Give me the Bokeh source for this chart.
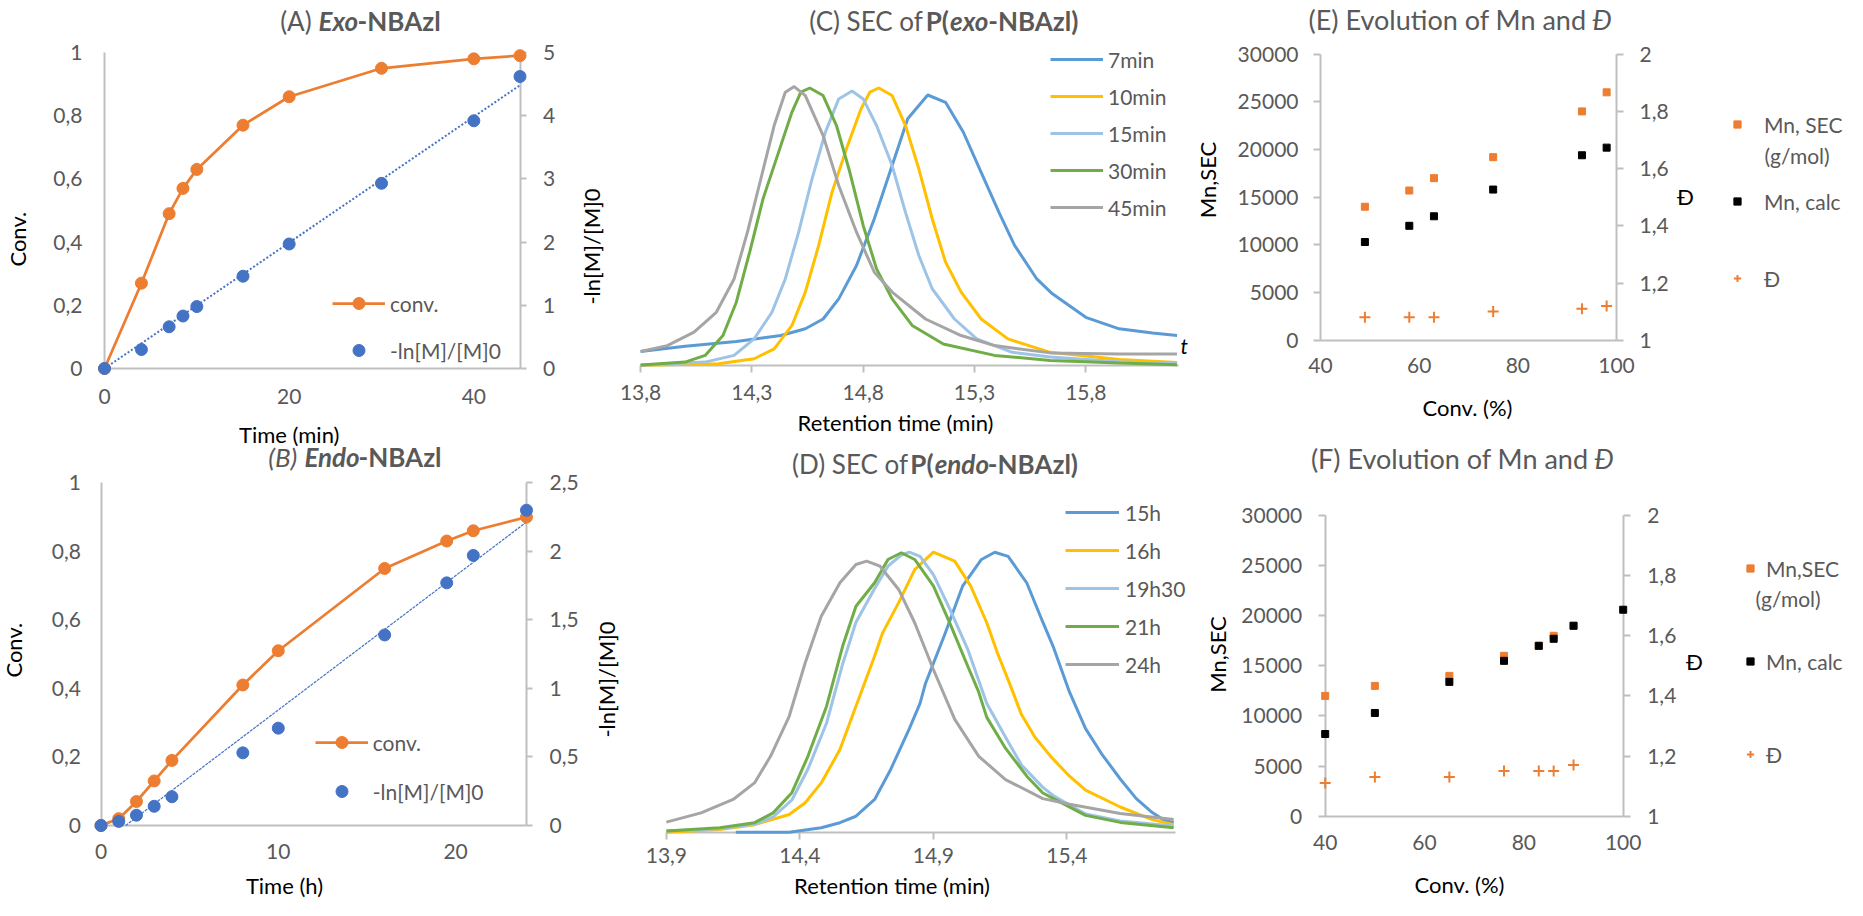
import math
import numpy as np
from bokeh.plotting import figure
from bokeh.core.properties import value
from bokeh.models import (Range1d, LinearAxis, FixedTicker, CustomJSTickFormatter,
                          Legend, LegendItem)
from bokeh.embed import file_html
from bokeh.resources import INLINE

# ---------------- (A) Exo-NBAzl kinetics (time in min) ----------------
a_time = [0, 4, 7, 8.5, 10, 15, 20, 30, 40, 45]
a_conv = [0, 0.27, 0.49, 0.57, 0.63, 0.77, 0.86, 0.95, 0.98, 0.99]
a_ln = [0, 0.30, 0.66, 0.83, 0.98, 1.46, 1.97, 2.93, 3.92, 4.62]
a_xticks = [0, 20, 40]
a_ln_ticks = [0, 1, 2, 3, 4, 5]

# ---------------- (B) Endo-NBAzl kinetics (time in h) ----------------
b_time = [0, 1, 2, 3, 4, 8, 10, 16, 19.5, 21, 24]
b_conv = [0, 0.02, 0.07, 0.13, 0.19, 0.41, 0.51, 0.75, 0.83, 0.86, 0.90]
b_ln = [0, 0.03, 0.075, 0.14, 0.21, 0.53, 0.71, 1.39, 1.77, 1.97, 2.30]
b_xticks = [0, 10, 20]
b_ln_ticks = [0, 0.5, 1, 1.5, 2, 2.5]
conv_ticks = [0, 0.2, 0.4, 0.6, 0.8, 1]

# ---------------- (C) SEC of P(exo-NBAzl) ----------------
c_labels = ["7min", "10min", "15min", "30min", "45min"]
c_t_7min = [13.80, 14.00, 14.23, 14.43, 14.54, 14.62, 14.69, 14.77, 14.85, 14.93, 15.00, 15.09,
            15.17, 15.25, 15.33, 15.41, 15.48, 15.58, 15.65, 15.80, 15.95, 16.10, 16.21]
c_v_7min = [0.049, 0.068, 0.085, 0.106, 0.130, 0.165, 0.237, 0.356, 0.523, 0.713, 0.880, 0.965,
            0.939, 0.832, 0.689, 0.546, 0.428, 0.308, 0.255, 0.171, 0.130, 0.115, 0.106]
c_t_10min = [13.80, 14.15, 14.31, 14.40, 14.48, 14.54, 14.60, 14.66, 14.73, 14.79, 14.83, 14.87,
             14.93, 14.99, 15.05, 15.11, 15.17, 15.24, 15.33, 15.45, 15.64, 15.95, 16.21]
c_v_10min = [0.0, 0.005, 0.023, 0.058, 0.142, 0.261, 0.428, 0.618, 0.785, 0.915, 0.975, 0.990,
             0.963, 0.856, 0.701, 0.523, 0.368, 0.261, 0.165, 0.094, 0.046, 0.020, 0.010]
c_t_15min = [13.80, 14.09, 14.22, 14.31, 14.39, 14.45, 14.51, 14.57, 14.63, 14.69, 14.75, 14.80,
             14.86, 14.93, 14.99, 15.05, 15.11, 15.21, 15.31, 15.47, 15.64, 15.95, 16.21]
c_v_15min = [0.0, 0.011, 0.035, 0.094, 0.189, 0.308, 0.475, 0.665, 0.832, 0.951, 0.979, 0.951,
             0.856, 0.713, 0.546, 0.392, 0.273, 0.165, 0.094, 0.046, 0.029, 0.012, 0.005]
c_t_30min = [13.80, 14.00, 14.09, 14.17, 14.23, 14.29, 14.35, 14.42, 14.48, 14.52, 14.56, 14.62,
             14.68, 14.74, 14.80, 14.86, 14.93, 15.02, 15.16, 15.39, 15.64, 15.95, 16.21]
c_v_30min = [0.001, 0.011, 0.035, 0.106, 0.225, 0.404, 0.594, 0.761, 0.904, 0.975, 0.990, 0.963,
             0.856, 0.689, 0.499, 0.344, 0.237, 0.142, 0.076, 0.035, 0.017, 0.008, 0.002]
c_t_45min = [13.80, 13.92, 14.04, 14.14, 14.22, 14.28, 14.34, 14.40, 14.45, 14.49, 14.54, 14.62,
             14.69, 14.77, 14.85, 14.93, 15.08, 15.24, 15.39, 15.64, 15.95, 16.21]
c_v_45min = [0.049, 0.070, 0.118, 0.189, 0.308, 0.475, 0.665, 0.856, 0.975, 0.995, 0.963, 0.820,
             0.642, 0.475, 0.332, 0.261, 0.165, 0.106, 0.070, 0.044, 0.040, 0.040]
c_xticks = [13.8, 14.3, 14.8, 15.3, 15.8]

# ---------------- (D) SEC of P(endo-NBAzl) ----------------
d_labels = ["15h", "16h", "19h30", "21h", "24h"]
d_t_15h = [14.16, 14.36, 14.48, 14.55, 14.61, 14.68, 14.74, 14.81, 14.85, 14.87, 14.94, 15.01, 15.08,
           15.13, 15.18, 15.25, 15.31, 15.35, 15.41, 15.47, 15.53, 15.60, 15.66, 15.72, 15.76, 15.80]
d_v_15h = [0.0, 0.0, 0.016, 0.034, 0.057, 0.117, 0.224, 0.37, 0.46, 0.53, 0.70, 0.88, 0.974,
           1.0, 0.985, 0.89, 0.75, 0.66, 0.50, 0.37, 0.28, 0.19, 0.12, 0.07, 0.045, 0.034]
d_t_16h = [13.90, 14.10, 14.23, 14.36, 14.42, 14.48, 14.55, 14.61, 14.68, 14.71, 14.77, 14.83, 14.90,
           14.98, 15.04, 15.10, 15.14, 15.19, 15.23, 15.28, 15.34, 15.41, 15.47, 15.60, 15.72, 15.80]
d_v_16h = [0.0, 0.01, 0.027, 0.063, 0.105, 0.176, 0.295, 0.45, 0.629, 0.712, 0.82, 0.938, 1.0,
           0.968, 0.879, 0.748, 0.64, 0.52, 0.42, 0.34, 0.27, 0.20, 0.15, 0.09, 0.045, 0.027]
d_t_19h30 = [13.90, 14.10, 14.23, 14.30, 14.37, 14.43, 14.50, 14.56, 14.61, 14.68, 14.73, 14.78, 14.81,
             14.85, 14.90, 14.96, 15.03, 15.10, 15.17, 15.23, 15.31, 15.35, 15.47, 15.60, 15.80]
d_v_19h30 = [0.004, 0.012, 0.028, 0.055, 0.115, 0.225, 0.39, 0.60, 0.75, 0.87, 0.95, 0.99, 1.0,
             0.985, 0.92, 0.80, 0.65, 0.46, 0.34, 0.24, 0.16, 0.13, 0.065, 0.04, 0.022]
d_t_21h = [13.90, 14.10, 14.23, 14.30, 14.37, 14.43, 14.50, 14.56, 14.61, 14.68, 14.73, 14.78, 14.83,
           14.90, 14.96, 15.03, 15.07, 15.10, 15.17, 15.25, 15.31, 15.35, 15.47, 15.60, 15.80]
d_v_21h = [0.004, 0.016, 0.034, 0.069, 0.141, 0.271, 0.45, 0.664, 0.807, 0.891, 0.974, 0.998, 0.974,
           0.88, 0.75, 0.59, 0.50, 0.41, 0.30, 0.20, 0.14, 0.12, 0.06, 0.035, 0.016]
d_t_24h = [13.90, 14.03, 14.15, 14.23, 14.29, 14.36, 14.42, 14.48, 14.55, 14.61, 14.65, 14.70,
           14.77, 14.83, 14.90, 14.98, 15.07, 15.17, 15.31, 15.41, 15.60, 15.80]
d_v_24h = [0.036, 0.069, 0.117, 0.176, 0.271, 0.414, 0.605, 0.771, 0.891, 0.956, 0.968, 0.95,
           0.867, 0.748, 0.581, 0.403, 0.271, 0.188, 0.12, 0.10, 0.067, 0.045]
d_xticks = [13.9, 14.4, 14.9, 15.4]

# ---------------- (E) Mn and dispersity, exo ----------------
e_conv = [49, 58, 63, 75, 93, 98]
e_mn_sec = [14000, 15700, 17000, 19200, 24000, 26000]
e_mn_calc = [10300, 12000, 13000, 15800, 19400, 20200]
e_disp = [1.08, 1.08, 1.08, 1.10, 1.11, 1.12]

# ---------------- (F) Mn and dispersity, endo ----------------
f_conv_sec = [40, 50, 65, 76, 83, 86, 90]
f_mn_sec = [12000, 13000, 14000, 16000, 17000, 18000, 19000]
f_conv_calc = [40, 50, 65, 76, 83, 86, 90, 100]
f_mn_calc = [8200, 10300, 13400, 15500, 17000, 17700, 19000, 20600]
f_disp = [1.11, 1.13, 1.13, 1.15, 1.15, 1.15, 1.17]
ef_xticks = [40, 60, 80, 100]
mn_ticks = [0, 5000, 10000, 15000, 20000, 25000, 30000]
disp_ticks = [1, 1.2, 1.4, 1.6, 1.8, 2]

# ---------------- styling ----------------
FONT = "Lato"
TXT = "#595959"
AX = "#BFBFBF"
ORANGE = "#ED7D31"
BLUE = "#4472C4"
SEC_COLORS = ["#5B9BD5", "#FFC000", "#9DC3E6", "#70AD47", "#A5A5A5"]
COMMA = "var v = Math.round(tick*1000)/1000; return v.toString().replace('.', ',');"
INT = "return Math.round(tick).toString();"

LATO_W = {' ': 0.193, '(': 0.30, ')': 0.30, 'A': 0.68, 'B': 0.64, 'C': 0.67, 'D': 0.74,
          'E': 0.56, 'F': 0.54, 'M': 0.88, 'N': 0.75, 'P': 0.60, 'S': 0.52, 'Đ': 0.76,
          'a': 0.50, 'c': 0.45, 'd': 0.56, 'e': 0.52, 'f': 0.32, 'i': 0.24, 'l': 0.24,
          'm': 0.83, 'n': 0.56, 'o': 0.56, 'r': 0.37, 's': 0.42, 't': 0.35, 'u': 0.56,
          'v': 0.51, 'x': 0.50, 'z': 0.46, '-': 0.33}
STYLE_F = {"normal": 1.0, "italic": 0.97, "bold": 1.04, "bold italic": 0.93}

# One canvas covering the page (reference pixels): frame = whole figure
PX0, PX1, PY0, PY1 = 8, 1855, 908, 8
DY = -3  # bottom-row panels are drawn 3 px higher than in the reference


def xr(l, r, x0, x1):
    k = (x1 - x0) / (r - l)
    return Range1d(x0 + (PX0 - l) * k, x0 + (PX1 - l) * k)


def yr(b, t, y0, y1):
    k = (y1 - y0) / (b - t)
    return Range1d(y0 - (PY0 - b) * k, y0 + (b - PY1) * k)


p = figure(width=PX1 - PX0, height=PY0 - PY1, output_backend="svg", toolbar_location=None,
           x_range=Range1d(PX0, PX1), y_range=Range1d(PY0, PY1), x_axis_location=None,
           y_axis_location=None, min_border=0, title=None, outline_line_color=None,
           background_fill_color="white", border_fill_color="white")
p.xgrid.visible = False
p.ygrid.visible = False

p.extra_x_ranges = {
    "A": xr(112, 527.5, 0, 45),
    "B": xr(108.5, 534, 0, 24),
    "C": xr(648.1, 1186, 13.8, 16.2165),
    "D": xr(673.9, 1183.3, 13.9, 15.808),
    "E": xr(1328, 1624, 40, 100),
    "F": xr(1332.7, 1630.7, 40, 100),
}
p.extra_y_ranges = {
    "A": yr(376, 60, 0, 1),
    "Aln": yr(376, 60, 0, 5),
    "B": yr(836 + DY, 493.3 + DY, 0, 1),
    "Bln": yr(836 + DY, 493.3 + DY, 0, 2.5),
    "C": yr(372.7, 92.7, 0, 1),
    "D": yr(842.7 + DY, 562.7 + DY, 0, 1),
    "E": yr(347.7, 61.7, 0, 30000),
    "Ed": yr(347.7, 61.7, 1, 2),
    "F": yr(826.7 + DY, 526 + DY, 0, 30000),
    "Fd": yr(826.7 + DY, 526 + DY, 1, 2),
}


def axis(side, rng, fixed_px, bounds, ticks, code, tick_out, standoff):
    ax = LinearAxis(x_range_name=rng) if side == "below" else LinearAxis(y_range_name=rng)
    ax.ticker = FixedTicker(ticks=ticks)
    ax.formatter = CustomJSTickFormatter(code=code)
    ax.axis_label = None
    ax.axis_line_color = AX
    ax.axis_line_width = 2
    if tick_out:
        ax.major_tick_line_color = AX
        ax.major_tick_line_width = 2
        ax.major_tick_out = tick_out
    else:
        ax.major_tick_line_color = None
        ax.major_tick_out = 0
    ax.major_tick_in = 0
    ax.minor_tick_line_color = None
    ax.major_label_text_font = FONT
    ax.major_label_text_font_size = "21px"
    ax.major_label_text_color = TXT
    ax.major_label_standoff = standoff
    ax.fixed_location = fixed_px
    ax.bounds = bounds
    ax.level = "underlay"
    p.add_layout(ax, side)


def text(px, py, s, size=22, color="black", style="normal", align="center", angle=0.0):
    p.text(x=[px], y=[py], text=[s], angle=angle, text_align=align, text_baseline="middle",
           text_font=value(FONT), text_font_size=f"{size}px", text_color=color,
           text_font_style=style)


def title(cx, cy, parts, size):
    ws = [sum(LATO_W.get(ch, 0.55) for ch in s) * size * STYLE_F[st] for s, st in parts]
    x = cx - sum(ws) / 2
    for (s, st), w in zip(parts, ws):
        text(x, cy, s, size, TXT, st, "left")
        x += w


def legend(items, left_px, bottom_px, gw, gh, spacing, standoff):
    lg = Legend(items=[LegendItem(label=lab, renderers=rs) for lab, rs in items],
                location=(left_px - PX0, PY0 - bottom_px),
                orientation="vertical", glyph_width=gw, glyph_height=gh, label_height=gh,
                spacing=spacing, padding=0, margin=0, label_standoff=standoff,
                border_line_color=None, background_fill_alpha=0,
                label_text_font=FONT, label_text_font_size="21px", label_text_color=TXT)
    p.add_layout(lg)


VERT = math.pi / 2

# ================= Panel A =================
axis("below", "A", 376, (0, 45), a_xticks, COMMA, 0, 20)
axis("left", "A", 112, (0, 1), conv_ticks, COMMA, 0, 22)
axis("right", "Aln", 527.5, (0, 5), a_ln_ticks, COMMA, 6, 17)
ta, la_ = np.array(a_time), np.array(a_ln)
slope_a = float(np.sum(ta * la_) / np.sum(ta * ta))
fit_xa = [a_time[0], a_time[-1]]
p.line(fit_xa, [slope_a * x for x in fit_xa], x_range_name="A", y_range_name="Aln",
       line_color=BLUE, line_width=2, line_dash="2 2")
ra_line = p.line(a_time, a_conv, x_range_name="A", y_range_name="A", line_color=ORANGE,
                 line_width=2.75)
ra_pts = p.scatter(a_time, a_conv, x_range_name="A", y_range_name="A", marker="circle", size=12,
                   fill_color=ORANGE, line_color=ORANGE)
ra_ln = p.scatter(a_time, a_ln, x_range_name="A", y_range_name="Aln", marker="circle", size=12,
                  fill_color=BLUE, line_color=BLUE)
legend([("conv.", [ra_line, ra_pts]), ("-ln[M]/[M]0", [ra_ln])], 340, 373, 53, 30, 17, 5)
title(368.3, 28, [("(A) ", "normal"), ("Exo", "bold italic"), ("-NBAzl", "bold")], 26)
text(25, 246.7, "Conv.", angle=VERT)
text(296.7, 442, "Time (min)")
text(599.2, 254, "-ln[M]/[M]0", angle=VERT)

# ================= Panel B =================
axis("below", "B", 836 + DY, (0, 24), b_xticks, COMMA, 0, 18)
axis("left", "B", 108.5, (0, 1), conv_ticks, COMMA, 0, 20)
axis("right", "Bln", 534, (0, 2.5), b_ln_ticks, COMMA, 6, 17)
mb, cb = np.polyfit(b_time, b_ln, 1)
fit_xb = [max(b_time[0], -cb / mb), b_time[-1]]
p.line(fit_xb, [mb * x + cb for x in fit_xb], x_range_name="B", y_range_name="Bln",
       line_color=BLUE, line_width=1.2, line_dash="3 1")
rb_line = p.line(b_time, b_conv, x_range_name="B", y_range_name="B", line_color=ORANGE,
                 line_width=2.75)
rb_pts = p.scatter(b_time, b_conv, x_range_name="B", y_range_name="B", marker="circle", size=12,
                   fill_color=ORANGE, line_color=ORANGE)
rb_ln = p.scatter(b_time, b_ln, x_range_name="B", y_range_name="Bln", marker="circle", size=12,
                  fill_color=BLUE, line_color=BLUE)
legend([("conv.", [rb_line, rb_pts]), ("-ln[M]/[M]0", [rb_ln])], 322.7, 817 + DY, 53, 30, 19, 5)
title(362.8, 467 + DY, [("(B) ", "italic"), ("Endo", "bold italic"), ("-NBAzl", "bold")], 26)
text(20.7, 660.7 + DY, "Conv.", angle=VERT)
text(292, 893, "Time (h)")
text(613.7, 690 + DY, "-ln[M]/[M]0", angle=VERT)

# ================= Panel C =================
axis("below", "C", 372.7, (13.8, 16.2165), c_xticks, COMMA, 7, 13)
c_series = [(c_t_7min, c_v_7min), (c_t_10min, c_v_10min), (c_t_15min, c_v_15min),
            (c_t_30min, c_v_30min), (c_t_45min, c_v_45min)]
c_rs = [p.line(tt, vv, x_range_name="C", y_range_name="C", line_color=col, line_width=3)
        for (tt, vv), col in zip(c_series, SEC_COLORS)]
legend(list(zip(c_labels, [[r] for r in c_rs])), 1058, 230, 53, 30, 7, 5)
title(952.2, 28, [("(C) SEC of ", "normal"), ("P(", "bold"), ("exo", "bold italic"),
                  ("-NBAzl)", "bold")], 26)
text(903, 430, "Retention time (min)")
text(1191.7, 353.3, "t", size=21, style="italic")

# ================= Panel D =================
axis("below", "D", 842.7 + DY, (13.9, 15.808), d_xticks, COMMA, 7, 9)
d_series = [(d_t_15h, d_v_15h), (d_t_16h, d_v_16h), (d_t_19h30, d_v_19h30),
            (d_t_21h, d_v_21h), (d_t_24h, d_v_24h)]
d_rs = [p.line(tt, vv, x_range_name="D", y_range_name="D", line_color=col, line_width=3)
        for (tt, vv), col in zip(d_series, SEC_COLORS)]
legend(list(zip(d_labels, [[r] for r in d_rs])), 1073, 690 + DY, 54, 30, 8, 6)
title(943.4, 474 + DY, [("(D) SEC of ", "normal"), ("P(", "bold"), ("endo", "bold italic"),
                        ("-NBAzl)", "bold")], 26)
text(899.5, 893, "Retention time (min)")

# ================= Panel E =================
axis("below", "E", 347.7, (40, 100), ef_xticks, INT, 0, 18)
axis("left", "E", 1328, (0, 30000), mn_ticks, INT, 7, 15)
axis("right", "Ed", 1624, (1, 2), disp_ticks, COMMA, 7, 16)
re1 = p.scatter(e_conv, e_mn_sec, x_range_name="E", y_range_name="E", marker="square", size=7,
                fill_color=ORANGE, line_color=ORANGE)
re2 = p.scatter(e_conv, e_mn_calc, x_range_name="E", y_range_name="E", marker="square", size=7,
                fill_color="black", line_color="black")
re3 = p.scatter(e_conv, e_disp, x_range_name="E", y_range_name="Ed", marker="cross", size=11,
                line_color=ORANGE, line_width=2)
legend([("Mn, SEC", [re1]), ("Mn, calc", [re2]), ("Đ", [re3])], 1736, 301, 18, 30, 47, 18)
text(1772, 163, "(g/mol)", size=21, color=TXT, align="left")
text(1594, 27, "(E) Evolution of Mn and", 27, TXT, "normal", "right")
text(1600, 27, "Đ", 27, TXT, "italic", "left")
text(1215, 187.5, "Mn,SEC", angle=VERT)
text(1475, 415, "Conv. (%)")
text(1693, 204, "Đ")

# ================= Panel F =================
axis("below", "F", 826.7 + DY, (40, 100), ef_xticks, INT, 0, 19)
axis("left", "F", 1332.7, (0, 30000), mn_ticks, INT, 7, 16)
axis("right", "Fd", 1630.7, (1, 2), disp_ticks, COMMA, 7, 17)
rf1 = p.scatter(f_conv_sec, f_mn_sec, x_range_name="F", y_range_name="F", marker="square", size=7,
                fill_color=ORANGE, line_color=ORANGE)
rf2 = p.scatter(f_conv_calc, f_mn_calc, x_range_name="F", y_range_name="F", marker="square",
                size=7, fill_color="black", line_color="black")
rf3 = p.scatter(f_conv_sec, f_disp, x_range_name="F", y_range_name="Fd", marker="cross", size=11,
                line_color=ORANGE, line_width=2)
legend([("Mn,SEC", [rf1]), ("Mn, calc", [rf2]), ("Đ", [rf3])], 1749, 780 + DY, 18, 30, 63, 7)
text(1763, 609 + DY, "(g/mol)", size=21, color=TXT, align="left")
text(1596, 469 + DY, "(F) Evolution of Mn and", 27, TXT, "normal", "right")
text(1602, 469 + DY, "Đ", 27, TXT, "italic", "left")
text(1225, 665 + DY, "Mn,SEC", angle=VERT)
text(1467, 892, "Conv. (%)")
text(1702, 671.7 + DY, "Đ")

open("out.html", "w").write(file_html(p, INLINE, title="Polymerization kinetics and SEC"))
